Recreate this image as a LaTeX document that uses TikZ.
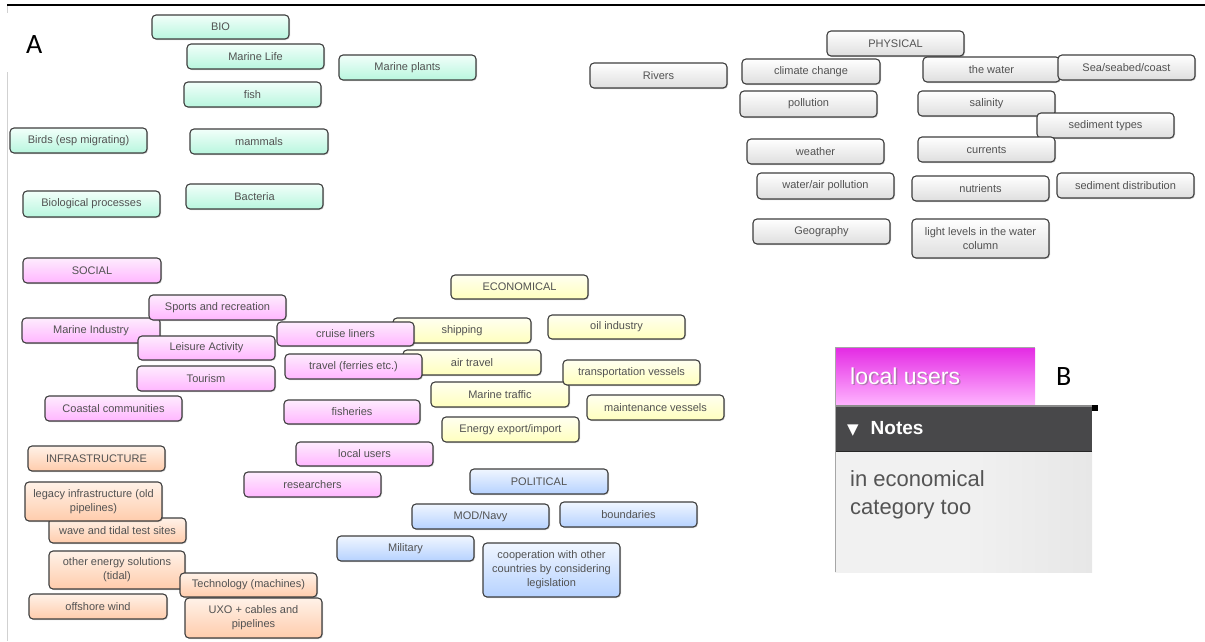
\documentclass[tikz,border=0pt]{standalone}
\usepackage{fontspec}
\setmainfont{Liberation Sans}
\newfontfamily\calfont{Carlito}
\newfontfamily\symfont{DejaVu Sans}
\usetikzlibrary{shadows}

\definecolor{cardedge}{RGB}{62,62,62}
\definecolor{cardtext}{RGB}{82,82,82}
\definecolor{bioTop}{RGB}{242,255,250}
\definecolor{bioBot}{RGB}{184,246,222}
\definecolor{phyTop}{RGB}{255,255,255}
\definecolor{phyBot}{RGB}{222,222,222}
\definecolor{socTop}{RGB}{254,236,254}
\definecolor{socBot}{RGB}{255,182,255}
\definecolor{ecoTop}{RGB}{255,255,240}
\definecolor{ecoBot}{RGB}{255,255,190}
\definecolor{infTop}{RGB}{255,242,232}
\definecolor{infBot}{RGB}{255,204,172}
\definecolor{polTop}{RGB}{240,246,255}
\definecolor{polBot}{RGB}{182,210,255}
\definecolor{hdrTop}{RGB}{228,44,228}
\definecolor{hdrBot}{RGB}{255,182,255}
\definecolor{notesBar}{RGB}{72,72,74}
\definecolor{notesBody}{RGB}{241,241,241}
\definecolor{notesBodyEdge}{RGB}{231,231,231}
\definecolor{notesText}{RGB}{84,84,84}

\tikzset{
  card/.style={draw=cardedge, line width=1.1pt, rounded corners=4pt,
    inner sep=0pt, outer sep=0pt, anchor=north west, align=center,
    font=\fontsize{11}{14}\selectfont, text=cardtext,
    general shadow={fill=black, opacity=0.18, shadow xshift=1pt, shadow yshift=-1pt}},
  biocard/.style={card, top color=bioTop, bottom color=bioBot},
  phycard/.style={card, top color=phyTop, bottom color=phyBot},
  soccard/.style={card, top color=socTop, bottom color=socBot},
  ecocard/.style={card, top color=ecoTop, bottom color=ecoBot},
  infcard/.style={card, top color=infTop, bottom color=infBot},
  polcard/.style={card, top color=polTop, bottom color=polBot},
  panellabel/.style={inner sep=0pt, anchor=base west, font=\calfont\fontsize{28}{30}\selectfont}
}

% \cardnode{name}{style}{left}{top}{width}{height}{text}
\newcommand\cardnode[7]{%
  \node[#2, minimum width=#5pt, minimum height=#6pt] (#1) at (#3,#4) {#7};}

\begin{document}
\begin{tikzpicture}[x=1pt,y=-1pt]
\useasboundingbox (0,0) rectangle (1205,641);

% frame lines of panel A
\draw[line width=2.5pt] (7,5) -- (1205,5);
\draw[black!18, line width=1pt] (7,6) -- (7,13);
\draw[black!18, line width=1pt] (7,72) -- (7,641);
\node[panellabel] (labA) at (26,53) {A};

% BIO
\cardnode{bio}{biocard}{152}{15}{137}{24}{BIO}
\cardnode{marinelife}{biocard}{187}{44}{137}{25}{Marine Life}
\cardnode{marineplants}{biocard}{339}{55}{137}{25}{Marine plants}
\cardnode{fish}{biocard}{184}{82}{137}{25}{fish}
\cardnode{birds}{biocard}{10}{128}{137}{25}{Birds (esp migrating)}
\cardnode{mammals}{biocard}{190}{129}{138}{25}{mammals}
\cardnode{bioproc}{biocard}{23}{191}{137}{26}{Biological processes}
\cardnode{bacteria}{biocard}{186}{184}{137}{25}{Bacteria}

% PHYSICAL
\cardnode{physical}{phycard}{827}{31}{137}{25}{PHYSICAL}
\cardnode{rivers}{phycard}{590}{63}{137}{25}{Rivers}
\cardnode{climate}{phycard}{742}{59}{138}{25}{climate change}
\cardnode{water}{phycard}{923}{57}{137}{25}{the water}
\cardnode{sea}{phycard}{1058}{55}{137}{25}{Sea/seabed/coast}
\cardnode{pollution}{phycard}{740}{91}{137}{26}{pollution}
\cardnode{salinity}{phycard}{918}{91}{137}{25}{salinity}
\cardnode{sedtypes}{phycard}{1037}{113}{137}{25}{sediment types}
\cardnode{weather}{phycard}{747}{139}{137}{25}{weather}
\cardnode{currents}{phycard}{918}{137}{137}{25}{currents}
\cardnode{waterair}{phycard}{757}{173}{137}{26}{water/air pollution}
\cardnode{nutrients}{phycard}{912}{176}{137}{25}{nutrients}
\cardnode{seddist}{phycard}{1057}{173}{137}{25}{sediment distribution}
\cardnode{geography}{phycard}{753}{219}{137}{25}{Geography}
\cardnode{light}{phycard}{912}{219}{137}{39}{light levels in the water\\column}

% ECONOMICAL
\cardnode{econ}{ecocard}{451}{275}{137}{24}{ECONOMICAL}
\cardnode{shipping}{ecocard}{393}{318}{138}{25}{shipping}
\cardnode{oil}{ecocard}{548}{315}{137}{24}{oil industry}
\cardnode{airtravel}{ecocard}{403}{350}{138}{25}{air travel}
\cardnode{marinetraffic}{ecocard}{431}{382}{138}{25}{Marine traffic}
\cardnode{transport}{ecocard}{563}{360}{137}{25}{transportation vessels}
\cardnode{maintenance}{ecocard}{587}{395}{137}{25}{maintenance vessels}
\cardnode{energy}{ecocard}{442}{417}{137}{25}{Energy export/import}

% SOCIAL
\cardnode{social}{soccard}{23}{258}{138}{25}{SOCIAL}
\cardnode{marineind}{soccard}{22}{318}{138}{25}{Marine Industry}
\cardnode{sports}{soccard}{149}{295}{137}{25}{Sports and recreation}
\cardnode{leisure}{soccard}{138}{336}{137}{24}{Leisure Activity}
\cardnode{tourism}{soccard}{137}{366}{138}{25}{Tourism}
\cardnode{coastal}{soccard}{45}{396}{137}{25}{Coastal communities}
\cardnode{cruise}{soccard}{277}{322}{137}{24}{cruise liners}
\cardnode{travel}{soccard}{285}{354}{137}{25}{travel (ferries etc.)}
\cardnode{fisheries}{soccard}{284}{400}{136}{24}{fisheries}
\cardnode{localusers}{soccard}{296}{442}{137}{24}{local users}
\cardnode{researchers}{soccard}{244}{472}{137}{25}{researchers}

% INFRASTRUCTURE
\cardnode{infra}{infcard}{28}{446}{137}{25}{INFRASTRUCTURE}
\cardnode{wave}{infcard}{49}{518}{137}{25}{wave and tidal test sites}
\cardnode{legacy}{infcard}{25}{482}{137}{39}{legacy infrastructure (old\\pipelines)}
\cardnode{otherenergy}{infcard}{49}{551}{136}{38}{other energy solutions\\(tidal)}
\cardnode{technology}{infcard}{180}{573}{137}{24}{Technology (machines)}
\cardnode{offshore}{infcard}{29}{594}{138}{25}{offshore wind}
\cardnode{uxo}{infcard}{185}{598}{137}{40}{UXO + cables and\\pipelines}

% POLITICAL
\cardnode{political}{polcard}{470}{469}{138}{25}{POLITICAL}
\cardnode{mod}{polcard}{412}{504}{137}{25}{MOD/Navy}
\cardnode{boundaries}{polcard}{560}{502}{137}{25}{boundaries}
\cardnode{military}{polcard}{337}{536}{137}{25}{Military}
\cardnode{coop}{polcard}{483}{543}{137}{54}{cooperation with other\\countries by considering\\legislation}

% Panel B: note attached to a card
\shade[top color=hdrTop, bottom color=hdrBot] (835,348) rectangle (1035,406);
\shade[left color=notesBody, right color=notesBodyEdge, middle color=notesBody]
  (835,451) rectangle (1092,572);
\fill[notesBar] (835,406) rectangle (1092,451);
\draw[black!45, line width=2pt] (835,406) -- (1092,406);
\draw[black!85, line width=1pt] (835,451) -- (1092,451);
\draw[black!35, line width=1pt] (835,347.5) -- (1035,347.5);
\draw[black!35, line width=1pt] (835,347) -- (835,572);
\fill[black] (1092,405) rectangle (1098,411);

\node[inner sep=0pt, anchor=base west, text=black!55, opacity=0.5,
      font=\fontsize{23}{27}\selectfont] (hdrshadow) at (851.5,385.5) {local users};
\node[inner sep=0pt, anchor=base west, text=white,
      font=\fontsize{23}{27}\selectfont] (hdrtext) at (850,384) {local users};
\node[inner sep=0pt, anchor=base west, text=white,
      font=\bfseries\fontsize{19}{22}\selectfont] (notestitle) at (847,434)
      {{\symfont\fontsize{15}{15}\selectfont ▼}\hspace{12pt}Notes};
\node[inner sep=0pt, anchor=north west, align=left, text=notesText,
      font=\fontsize{22}{28}\selectfont] (notesbody) at (850,470)
      {in economical\\category too};
\node[panellabel] (labB) at (1056,385) {B};
\end{tikzpicture}
\end{document}
